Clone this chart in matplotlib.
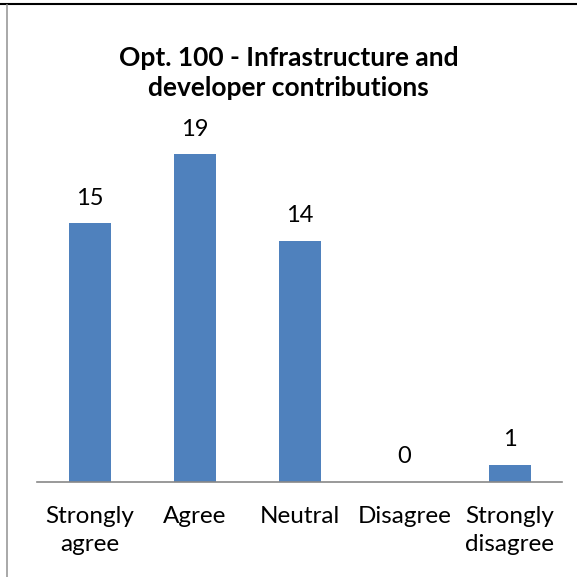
import matplotlib.pyplot as plt
from matplotlib.lines import Line2D

categories = ['Strongly\nagree', 'Agree', 'Neutral', 'Disagree', 'Strongly\ndisagree']
counts = [15, 19, 14, 0, 1]

plt.rcParams['font.family'] = ['Lato', 'DejaVu Sans']

fig = plt.figure(figsize=(5.77, 5.77), dpi=100)
ax = fig.add_axes([37/577, 1 - 482/577, 525/577, (482 - 137)/577])

x = range(len(categories))
bars = ax.bar(x, counts, width=0.4, color='#4F81BD')
for xi, v in zip(x, counts):
    ax.text(xi, v + 1.45, str(v), ha='center', va='center', fontsize=17)

ax.set_xlim(-0.5, len(categories) - 0.5)
ax.set_ylim(0, 20)
ax.set_yticks([])
ax.set_xticks(list(x))
ax.set_xticklabels(categories, fontsize=17.5, linespacing=1.45)
ax.tick_params(axis='x', length=0, pad=17)
for s in ['top', 'right', 'left']:
    ax.spines[s].set_visible(False)
ax.spines['bottom'].set_color('#888888')
ax.spines['bottom'].set_linewidth(1.2)

fig.text(0.5, 1 - 73/577, 'Opt. 100 - Infrastructure and\ndeveloper contributions',
         ha='center', va='center', fontsize=19, fontweight='bold', linespacing=1.3)

# frame lines along the top and left edge
fig.add_artist(Line2D([0, 1], [1 - 4/577, 1 - 4/577], color='black', linewidth=1.5))
fig.add_artist(Line2D([7/577, 7/577], [0, 1 - 5/577], color='#999999', linewidth=1.2))

fig.savefig('out.png', dpi=100)
